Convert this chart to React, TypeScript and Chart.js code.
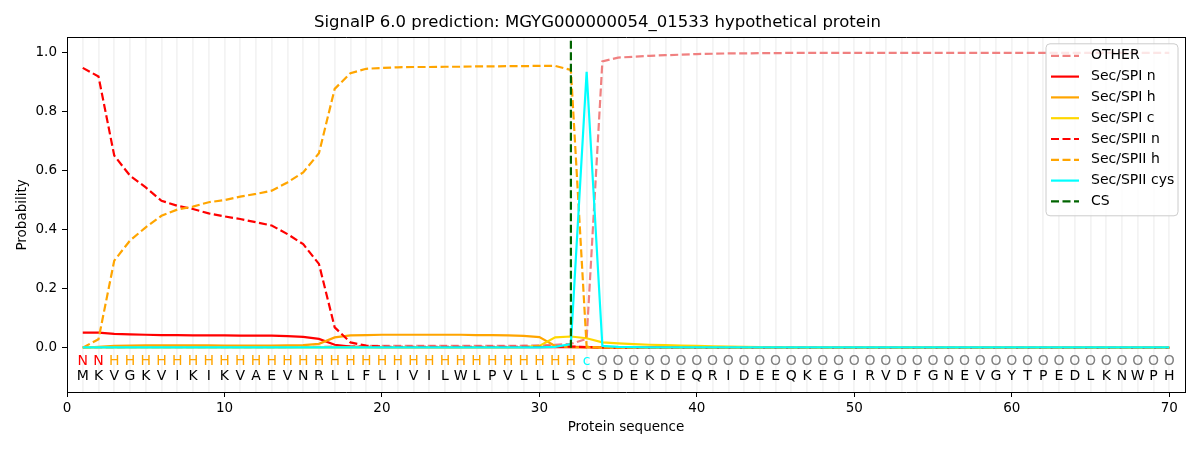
import { useEffect, useRef } from 'react'
import Chart from 'chart.js/auto'

// SignalP 6.0 — 잔기별 확률 (1..70)
const SEQUENCE = 'MKVGKVIKIKVAEVNRLLFLIVILWLPVLLLSCSDEKDEQRIDEEQKEGIRVDFGNEVGYTPEDLKNWPH'
const ANNOT = 'NN' + 'HHHHHHHHHH' + 'HHHHHHHHHH' + 'HHHHHHHHHH' + 'c' +
  'OOOOOOOOOO' + 'OOOOOOOOOO' + 'OOOOOOOOOO' + 'OOOOOOO'
const POSITIONS = SEQUENCE.split('').map((_, i) => i + 1)
const CS_POS = 32
const X_TICKS = [0, 10, 20, 30, 40, 50, 60, 70]
const Y_TICKS = [0, 0.2, 0.4, 0.6, 0.8, 1.0]

const OTHER = [
  0.001, 0.001, 0.001, 0.002, 0.002, 0.002, 0.002, 0.002, 0.002, 0.002,
  0.002, 0.002, 0.002, 0.002, 0.003, 0.003, 0.004, 0.005, 0.006, 0.006,
  0.006, 0.006, 0.006, 0.006, 0.006, 0.006, 0.006, 0.006, 0.007, 0.008,
  0.010, 0.013, 0.030, 0.970, 0.983, 0.986, 0.989, 0.991, 0.993, 0.995,
  0.996, 0.997, 0.997, 0.998, 0.998, 0.999, 0.999, 0.999, 0.999, 0.999,
  0.999, 0.999, 0.999, 0.999, 0.999, 0.999, 0.999, 0.999, 0.999, 0.999,
  0.999, 0.999, 0.999, 0.999, 0.999, 0.999, 0.999, 0.999, 0.999, 0.999,
]
const SPI_N = [
  0.051, 0.051, 0.047, 0.045, 0.044, 0.043, 0.043, 0.042, 0.042, 0.042,
  0.041, 0.041, 0.041, 0.039, 0.037, 0.030, 0.010, 0.004, 0.003, 0.002,
  0.002, 0.002, 0.002, 0.002, 0.002, 0.002, 0.002, 0.002, 0.002, 0.002,
  0.002, 0.003, 0.002, 0.001, 0.001, 0.001, 0.001, 0.001, 0.001, 0.001,
  0, 0, 0, 0, 0, 0, 0, 0, 0, 0,
  0, 0, 0, 0, 0, 0, 0, 0, 0, 0,
  0, 0, 0, 0, 0, 0, 0, 0, 0, 0,
]
const SPI_H = [
  0.000, 0.003, 0.006, 0.007, 0.008, 0.008, 0.008, 0.008, 0.008, 0.007,
  0.007, 0.007, 0.007, 0.008, 0.009, 0.013, 0.035, 0.042, 0.043, 0.044,
  0.044, 0.044, 0.044, 0.044, 0.044, 0.043, 0.043, 0.042, 0.040, 0.036,
  0.006, 0.002, 0.001, 0, 0, 0, 0, 0, 0, 0,
  0, 0, 0, 0, 0, 0, 0, 0, 0, 0,
  0, 0, 0, 0, 0, 0, 0, 0, 0, 0,
  0, 0, 0, 0, 0, 0, 0, 0, 0, 0,
]
const SPI_C = [
  0.001, 0.001, 0.001, 0.001, 0.001, 0.001, 0.001, 0.001, 0.001, 0.001,
  0.001, 0.001, 0.001, 0.001, 0.001, 0.001, 0.001, 0.001, 0.001, 0.001,
  0.001, 0.001, 0.001, 0.001, 0.001, 0.001, 0.001, 0.001, 0.002, 0.006,
  0.035, 0.038, 0.032, 0.018, 0.015, 0.012, 0.010, 0.009, 0.007, 0.006,
  0.005, 0.004, 0.003, 0.002, 0.002, 0.001, 0.001, 0.001, 0.001, 0.001,
  0.001, 0.001, 0.001, 0.001, 0.001, 0.001, 0.001, 0.001, 0.001, 0.001,
  0.001, 0.001, 0.001, 0.001, 0.001, 0.001, 0.001, 0.001, 0.001, 0.001,
]
const SPII_N = [
  0.948, 0.919, 0.651, 0.583, 0.543, 0.498, 0.481, 0.470, 0.455, 0.445,
  0.436, 0.425, 0.414, 0.385, 0.351, 0.284, 0.069, 0.018, 0.007, 0.004,
  0.003, 0.003, 0.003, 0.003, 0.003, 0.003, 0.003, 0.003, 0.003, 0.003,
  0.003, 0.004, 0.002, 0.001, 0, 0, 0, 0, 0, 0,
  0, 0, 0, 0, 0, 0, 0, 0, 0, 0,
  0, 0, 0, 0, 0, 0, 0, 0, 0, 0,
  0, 0, 0, 0, 0, 0, 0, 0, 0, 0,
]
const SPII_H = [
  0.000, 0.029, 0.295, 0.363, 0.408, 0.447, 0.468, 0.478, 0.493, 0.500,
  0.512, 0.521, 0.532, 0.560, 0.594, 0.659, 0.877, 0.930, 0.945, 0.948,
  0.950, 0.951, 0.951, 0.952, 0.952, 0.953, 0.953, 0.954, 0.954, 0.955,
  0.955, 0.941, 0.003, 0.001, 0, 0, 0, 0, 0, 0,
  0, 0, 0, 0, 0, 0, 0, 0, 0, 0,
  0, 0, 0, 0, 0, 0, 0, 0, 0, 0,
  0, 0, 0, 0, 0, 0, 0, 0, 0, 0,
]
const SPII_CYS = [
  0.001, 0.001, 0.001, 0.001, 0.001, 0.001, 0.001, 0.001, 0.001, 0.001,
  0.001, 0.001, 0.001, 0.001, 0.001, 0.001, 0.001, 0.001, 0.001, 0.001,
  0.001, 0.001, 0.001, 0.001, 0.001, 0.001, 0.001, 0.001, 0.001, 0.001,
  0.003, 0.012, 0.935, 0.006, 0.003, 0.002, 0.001, 0.001, 0.001, 0.001,
  0.001, 0.001, 0.001, 0.001, 0.001, 0.001, 0.001, 0.001, 0.001, 0.001,
  0.001, 0.001, 0.001, 0.001, 0.001, 0.001, 0.001, 0.001, 0.001, 0.001,
  0.001, 0.001, 0.001, 0.001, 0.001, 0.001, 0.001, 0.001, 0.001, 0.001,
]

const FONT = '"DejaVu Sans", sans-serif'
const DASH = [8, 3.5]

const SERIES = [
  { label: 'OTHER',        data: OTHER,    color: '#F08080', dash: DASH },
  { label: 'Sec/SPI n',    data: SPI_N,    color: '#FF0000', dash: [] },
  { label: 'Sec/SPI h',    data: SPI_H,    color: '#FFA500', dash: [] },
  { label: 'Sec/SPI c',    data: SPI_C,    color: '#FFD700', dash: [] },
  { label: 'Sec/SPII n',   data: SPII_N,   color: '#FF0000', dash: DASH },
  { label: 'Sec/SPII h',   data: SPII_H,   color: '#FFA500', dash: DASH },
  { label: 'Sec/SPII cys', data: SPII_CYS, color: '#00FFFF', dash: [] },
]
const CS_COLOR = '#006400'
const ANNOT_COLOR: Record<string, string> = { N: '#FF0000', H: '#FFA500', c: '#00FFFF', O: '#808080' }

export default function App() {
  const canvasRef = useRef<HTMLCanvasElement>(null)

  useEffect(() => {
    document.body.style.margin = '0'
    if (!canvasRef.current) return

    // 서열 문자 + 영역 라벨 (y = -0.047 / -0.098)
    const letters = {
      id: 'letters',
      afterDatasetsDraw(c: any) {
        const { ctx, scales: { x, y } } = c
        ctx.save()
        ctx.font = `14px ${FONT}`
        ctx.textAlign = 'center'; ctx.textBaseline = 'middle'
        POSITIONS.forEach((p, i) => {
          const xp = x.getPixelForValue(p)
          ctx.fillStyle = ANNOT_COLOR[ANNOT[i]] ?? '#808080'
          ctx.fillText(ANNOT[i], xp, y.getPixelForValue(-0.047))
          ctx.fillStyle = '#000'
          ctx.fillText(SEQUENCE[i], xp, y.getPixelForValue(-0.098))
        })
        ctx.restore()
      },
    }

    // 범례 (우상단, 플롯 내부)
    const legendBox = {
      id: 'legendBox',
      afterDraw(c: any) {
        const { ctx, chartArea: a } = c
        const entries = [...SERIES.map(s => ({ label: s.label, color: s.color, dash: s.dash })),
          { label: 'CS', color: CS_COLOR, dash: DASH }]
        const w = 132, h = 172
        const left = a.right - 7 - w, top = a.top + 6
        ctx.save()
        ctx.beginPath()
        ctx.roundRect(left, top, w, h, 4)
        ctx.fillStyle = 'rgba(255,255,255,0.8)'; ctx.fill()
        ctx.strokeStyle = '#cccccc'; ctx.lineWidth = 1; ctx.stroke()
        ctx.font = `14px ${FONT}`; ctx.textBaseline = 'middle'; ctx.textAlign = 'left'
        entries.forEach((e, i) => {
          const yc = top + 12 + i * 20.8
          ctx.beginPath(); ctx.moveTo(left + 5, yc); ctx.lineTo(left + 33, yc)
          ctx.strokeStyle = e.color; ctx.lineWidth = 2.2; ctx.setLineDash(e.dash); ctx.stroke(); ctx.setLineDash([])
          ctx.fillStyle = '#000'
          ctx.fillText(e.label, left + 45, yc)
        })
        ctx.restore()
      },
    }

    const datasets: any[] = SERIES.map((s, i) => ({
      label: s.label,
      data: s.data.map((v, j) => ({ x: POSITIONS[j], y: v })),
      borderColor: s.color, borderWidth: 2.2, borderDash: s.dash,
      pointRadius: 0, tension: 0, fill: false, order: 10 - i,
    }))
    // CS: 0 ~ 상단까지 수직 점선
    datasets.push({
      label: 'CS',
      data: [{ x: CS_POS, y: 0 }, { x: CS_POS, y: 1.05 }],
      borderColor: CS_COLOR, borderWidth: 2.2, borderDash: DASH,
      pointRadius: 0, fill: false, order: 1,
    })

    const chart = new Chart(canvasRef.current, {
      type: 'line',
      data: { datasets },
      options: {
        responsive: true, maintainAspectRatio: false, animation: false,
        layout: { padding: { left: 10, right: 15, bottom: 10 } },
        plugins: {
          legend: { display: false },
          tooltip: { enabled: false },
          title: {
            display: true,
            text: 'SignalP 6.0 prediction: MGYG000000054_01533 hypothetical protein',
            color: '#000', font: { family: FONT, size: 16.5, weight: 'normal' },
            padding: { top: 13, bottom: 5 },
          },
        },
        scales: {
          x: {
            type: 'linear', min: 0, max: 71,
            afterBuildTicks: (s: any) => { s.ticks = X_TICKS.map(v => ({ value: v })) },
            afterFit: (s: any) => { s.height = 48 },
            grid: { drawOnChartArea: false, drawTicks: true, tickLength: 5, color: '#000' },
            border: { display: true, color: '#000', width: 1 },
            ticks: { color: '#000', font: { family: FONT, size: 13.5 }, padding: 3, maxRotation: 0 },
            title: { display: true, text: 'Protein sequence', color: '#000', font: { family: FONT, size: 13.5 }, padding: { top: 2, bottom: 4 } },
          },
          xg: {
            type: 'linear', min: 0, max: 71, position: 'bottom', display: true,
            afterBuildTicks: (s: any) => { s.ticks = POSITIONS.map(v => ({ value: v })) },
            afterFit: (s: any) => { s.height = 0 },
            grid: { drawOnChartArea: true, drawTicks: false, color: '#f3f3f3', lineWidth: 1.7 },
            border: { display: false },
            ticks: { display: false },
          },
          y: {
            type: 'linear', min: -0.15, max: 1.05,
            afterBuildTicks: (s: any) => { s.ticks = Y_TICKS.map(v => ({ value: v })) },
            afterFit: (s: any) => { s.width = 57 },
            grid: { drawOnChartArea: false, drawTicks: true, tickLength: 5, color: '#000' },
            border: { display: true, color: '#000', width: 1 },
            ticks: { color: '#000', font: { family: FONT, size: 13.5 }, padding: 5, callback: (v: any) => Number(v).toFixed(1) },
            title: { display: true, text: 'Probability', color: '#000', font: { family: FONT, size: 13.5 }, padding: { top: 4, bottom: 4 } },
          },
          yr: {
            type: 'linear', position: 'right', min: -0.15, max: 1.05, display: true,
            afterFit: (s: any) => { s.width = 0 },
            grid: { display: false }, ticks: { display: false },
            border: { display: true, color: '#000', width: 1 },
          },
          xt: {
            type: 'linear', position: 'top', min: 0, max: 71, display: true,
            afterFit: (s: any) => { s.height = 0 },
            grid: { display: false }, ticks: { display: false },
            border: { display: true, color: '#000', width: 1 },
          },
        },
      } as any,
      plugins: [letters, legendBox],
    })

    return () => { chart.destroy() }
  }, [])

  return (
    <div style={{ width: 1200, height: 450, position: 'relative', background: '#fff' }}>
      <canvas ref={canvasRef} />
    </div>
  )
}
